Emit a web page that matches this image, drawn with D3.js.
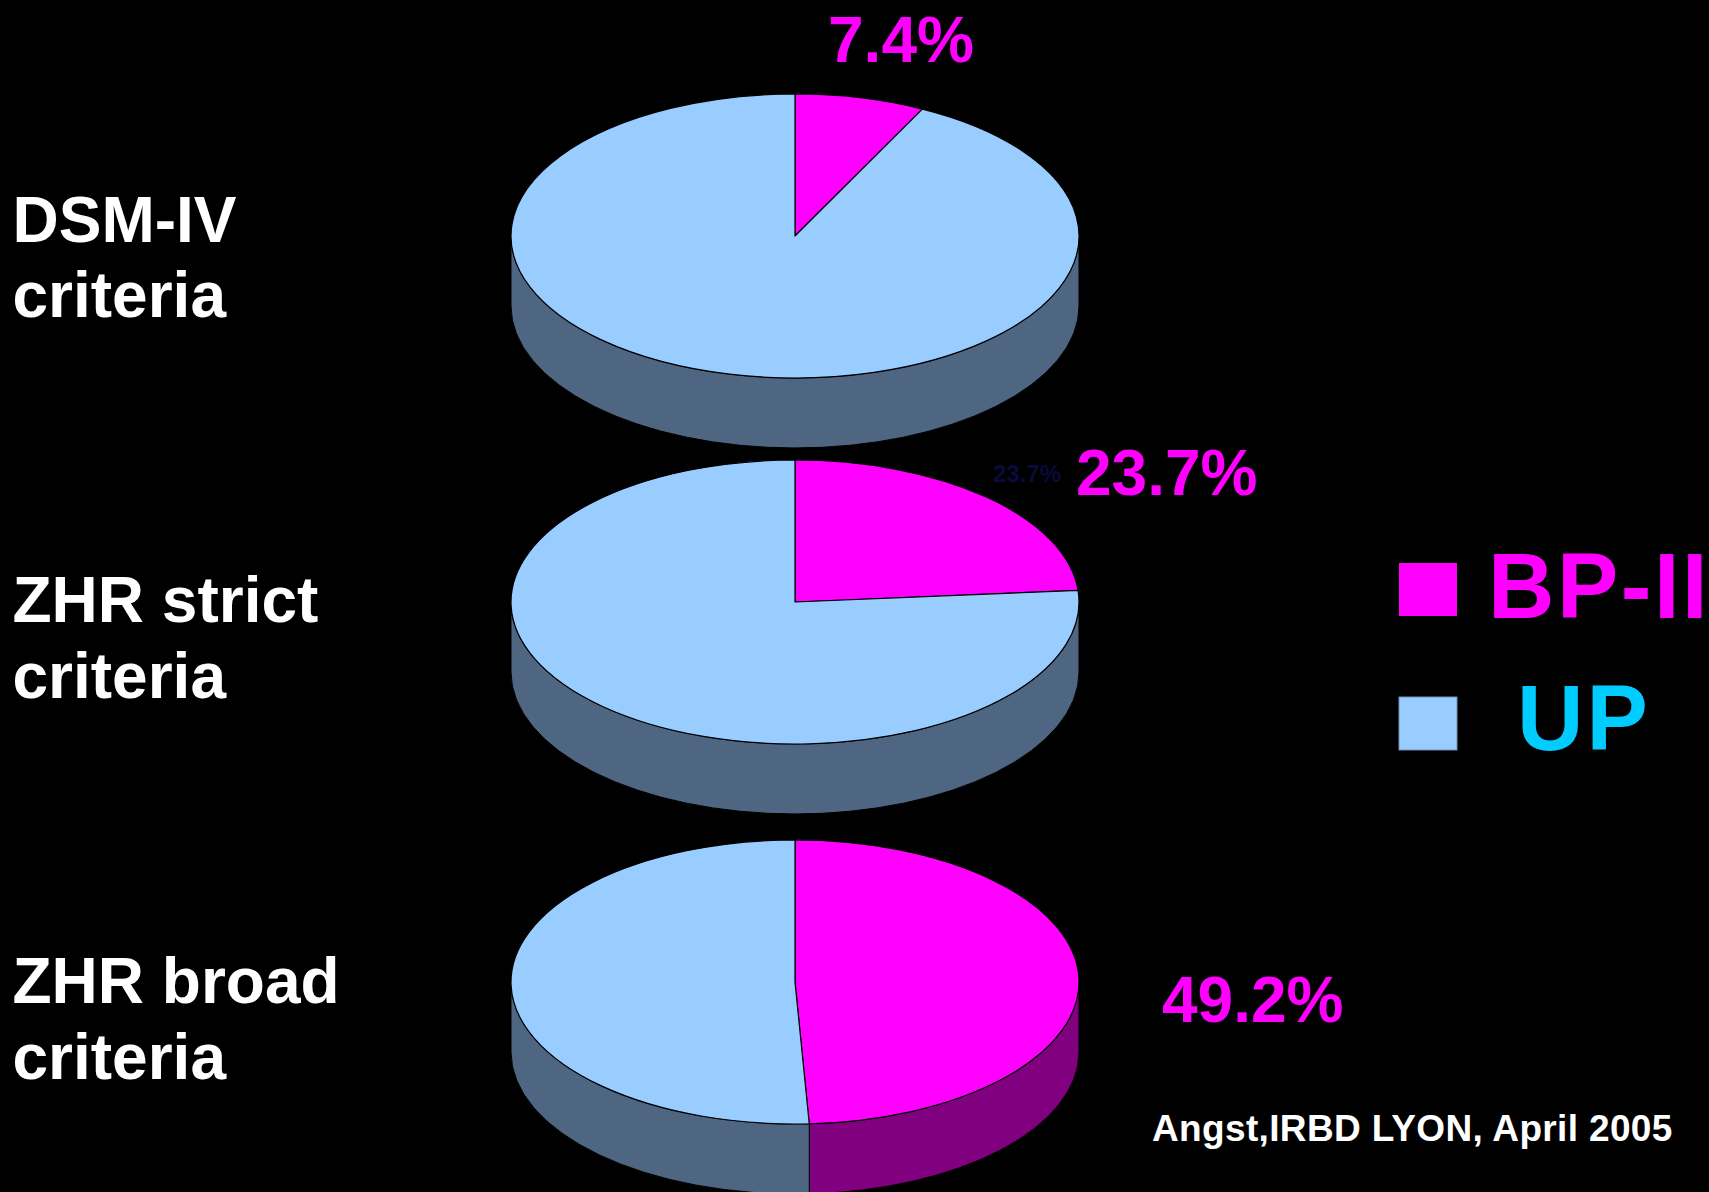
<!DOCTYPE html>
<html>
<head>
<meta charset="utf-8">
<script src="https://cdn.jsdelivr.net/npm/d3@7"></script>
<style>
  html, body { margin: 0; padding: 0; background: #000; }
  svg { display: block; }
  text { font-family: "Liberation Sans", Arial, Helvetica, sans-serif; font-weight: bold; }
</style>
</head>
<body>
<script>
// ---- data -------------------------------------------------------------
const criteriaLines = [
  ["DSM-IV", "criteria"],
  ["ZHR strict", "criteria"],
  ["ZHR broad", "criteria"]
];
const seriesNames = ["BP-II", "UP"];
const bp2Share = [7.4, 23.7, 49.2];
const upShare  = [92.6, 76.3, 50.8];
const footerText = "Angst,IRBD LYON, April 2005";

// ---- layout -----------------------------------------------------------
const W = 1709, H = 1192;
const rx = 284, ry = 142, depth = 70;
const pieCenters = [[795, 236], [795, 602], [795, 982]];
const labelAnchors = [[828, 62], [1076, 495], [1162, 1022]];
const leftLabelBaselines = [[242, 317], [622, 698], [1003, 1079]];

const topColor  = { "BP-II": "#ff00ff", "UP": "#99ccff" };
const sideColor = { "BP-II": "#800080", "UP": "#4f6682" };
const legendTextColor = { "BP-II": "#ff00ff", "UP": "#00ccff" };

const svg = d3.select("body").append("svg")
  .attr("width", W).attr("height", H);
svg.append("rect").attr("width", W).attr("height", H).attr("fill", "#000");

const pie = d3.pie().sort(null).value(d => d.value);
const fmt = d3.format(".1f");

// point on the tilted ellipse for an angle measured clockwise from 12 o'clock
function pt(cx, cy, a, dy = 0) {
  return [cx + rx * Math.sin(a), cy - ry * Math.cos(a) + dy];
}

function topPath(cx, cy, a0, a1) {
  const p0 = pt(cx, cy, a0), p1 = pt(cx, cy, a1);
  const large = (a1 - a0) > Math.PI ? 1 : 0;
  return `M${cx},${cy}L${p0[0]},${p0[1]}A${rx},${ry} 0 ${large} 1 ${p1[0]},${p1[1]}Z`;
}

function sidePath(cx, cy, a0, a1) {
  const s0 = Math.max(a0, Math.PI / 2), s1 = Math.min(a1, 3 * Math.PI / 2);
  if (s1 <= s0) return null;
  const p0 = pt(cx, cy, s0), p1 = pt(cx, cy, s1);
  const q0 = pt(cx, cy, s0, depth), q1 = pt(cx, cy, s1, depth);
  return `M${p0[0]},${p0[1]}A${rx},${ry} 0 0 1 ${p1[0]},${p1[1]}` +
         `L${q1[0]},${q1[1]}A${rx},${ry} 0 0 0 ${q0[0]},${q0[1]}Z`;
}

bp2Share.forEach((bp, i) => {
  const [cx, cy] = pieCenters[i];
  const slices = pie([
    { name: seriesNames[0], value: bp },
    { name: seriesNames[1], value: upShare[i] }
  ]);
  const g = svg.append("g").attr("class", "pie3d");

  // walls first, then the lid
  g.selectAll("path.side")
    .data(slices.filter(s => sidePath(cx, cy, s.startAngle, s.endAngle)))
    .join("path")
    .attr("class", "side")
    .attr("d", s => sidePath(cx, cy, s.startAngle, s.endAngle))
    .attr("fill", s => sideColor[s.data.name])
    .attr("stroke", "#000")
    .attr("stroke-width", 1);

  g.selectAll("path.top")
    .data(slices)
    .join("path")
    .attr("class", "top")
    .attr("d", s => topPath(cx, cy, s.startAngle, s.endAngle))
    .attr("fill", s => topColor[s.data.name])
    .attr("stroke", "#000")
    .attr("stroke-width", 1.2)
    .attr("stroke-linejoin", "round");

  // BP-II value label
  const [lx, ly] = labelAnchors[i];
  svg.append("text")
    .attr("x", lx).attr("y", ly)
    .attr("font-size", 64)
    .attr("fill", "#ff00ff")
    .text(fmt(bp) + "%");

  // criteria label on the left
  svg.append("text")
    .attr("font-size", 64)
    .attr("fill", "#fff")
    .selectAll("tspan")
    .data(criteriaLines[i])
    .join("tspan")
    .attr("x", 12.5)
    .attr("y", (d, k) => leftLabelBaselines[i][k])
    .text(d => d);
});

// faint duplicate label beside the strict-criteria pie
svg.append("text")
  .attr("x", 993).attr("y", 482)
  .attr("font-size", 24)
  .attr("font-weight", "normal")
  .attr("fill", "#0a0a3c")
  .text(fmt(bp2Share[1]) + "%");

// legend
const legend = svg.append("g").attr("class", "legend");
const legendRows = [
  { name: seriesNames[0], y: 563, textX: 1488, baseline: 618, spacing: 2.5 },
  { name: seriesNames[1], y: 697, textX: 1517, baseline: 750, spacing: 3 }
];
legend.selectAll("rect")
  .data(legendRows)
  .join("rect")
  .attr("x", 1399).attr("y", d => d.y)
  .attr("width", 58).attr("height", 53)
  .attr("fill", d => topColor[d.name])
  .attr("stroke", d => d.name === "UP" ? "#6f8fb3" : "none")
  .attr("stroke-width", 1);
legend.selectAll("text")
  .data(legendRows)
  .join("text")
  .attr("x", d => d.textX).attr("y", d => d.baseline)
  .attr("font-size", 92)
  // gap between letters only, no trailing space after the last one
  .attr("dx", d => Array.from(d.name, (c, k) => k === 0 ? 0 : d.spacing).join(" "))
  .attr("fill", d => legendTextColor[d.name])
  .text(d => d.name);

// source note
svg.append("text")
  .attr("x", 1152).attr("y", 1141)
  .attr("font-size", 37)
  .attr("letter-spacing", 0.35)
  .attr("fill", "#fff")
  .text(footerText);
</script>
</body>
</html>
